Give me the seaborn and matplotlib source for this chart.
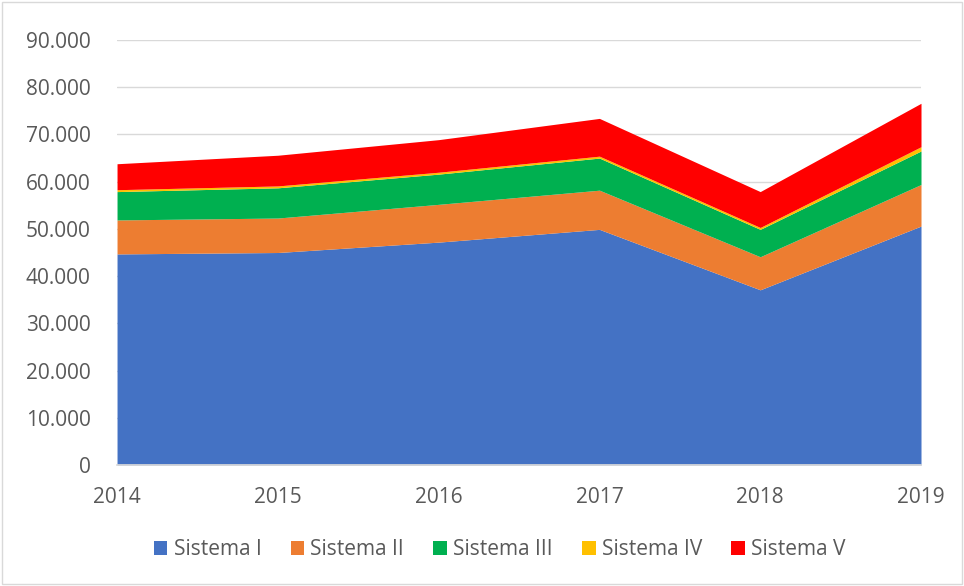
import matplotlib
matplotlib.use("Agg")
import matplotlib.pyplot as plt
import matplotlib.ticker as mticker
from matplotlib.patches import Rectangle
import seaborn as sns
import pandas as pd

# datos (valores por sistema, apilados)
anios = [2014, 2015, 2016, 2017, 2018, 2019]
sistema_1 = [44700, 45000, 47200, 49900, 37100, 50600]
sistema_2 = [7200, 7300, 8000, 8300, 7000, 8800]
sistema_3 = [6000, 6400, 6400, 6800, 5800, 7100]
sistema_4 = [400, 400, 400, 400, 400, 900]
sistema_5 = [5500, 6500, 6900, 8000, 7600, 9200]
nombres = ["Sistema I", "Sistema II", "Sistema III", "Sistema IV", "Sistema V"]
colores = ["#4472C4", "#ED7D31", "#00B050", "#FFC000", "#FF0000"]

df = pd.DataFrame({"anio": anios, nombres[0]: sistema_1, nombres[1]: sistema_2,
                   nombres[2]: sistema_3, nombres[3]: sistema_4, nombres[4]: sistema_5})

sns.set_theme(style="white")
plt.rcParams["font.family"] = ["Open Sans", "DejaVu Sans"]

fig = plt.figure(figsize=(9.64, 5.86), dpi=100)
ax = fig.add_axes([0.1214, 0.2065, 0.834, 0.7252])

ax.stackplot(df["anio"], [df[n] for n in nombres], labels=nombres, colors=colores, linewidth=0)

ax.set_xlim(2014, 2019)
ax.set_ylim(0, 90000)
ax.set_yticks(range(0, 90001, 10000))
ax.yaxis.set_major_formatter(mticker.FuncFormatter(
    lambda v, p: "0" if v == 0 else f"{int(v):,}".replace(",", ".")))
ax.set_xticks(anios)
ax.grid(axis="y", color="#d9d9d9", linewidth=1)
ax.set_axisbelow(True)
for s in ["top", "right", "left"]:
    ax.spines[s].set_visible(False)
ax.spines["bottom"].set_color("#d9d9d9")
ax.tick_params(axis="both", length=0, labelsize=15, labelcolor="#595959")
ax.tick_params(axis="x", pad=16)
ax.tick_params(axis="y", pad=19)

leg = ax.legend(loc="center", bbox_to_anchor=(0.476, -0.2), ncol=5, frameon=False,
                fontsize=15, handlelength=0.65, handleheight=0.65, handletextpad=0.3,
                columnspacing=1.4, labelcolor="#595959")

fig.add_artist(Rectangle((0.002, 0.003), 0.996, 0.994, transform=fig.transFigure,
                         fill=False, edgecolor="#d9d9d9", linewidth=1))

fig.savefig("out.png", dpi=100)
